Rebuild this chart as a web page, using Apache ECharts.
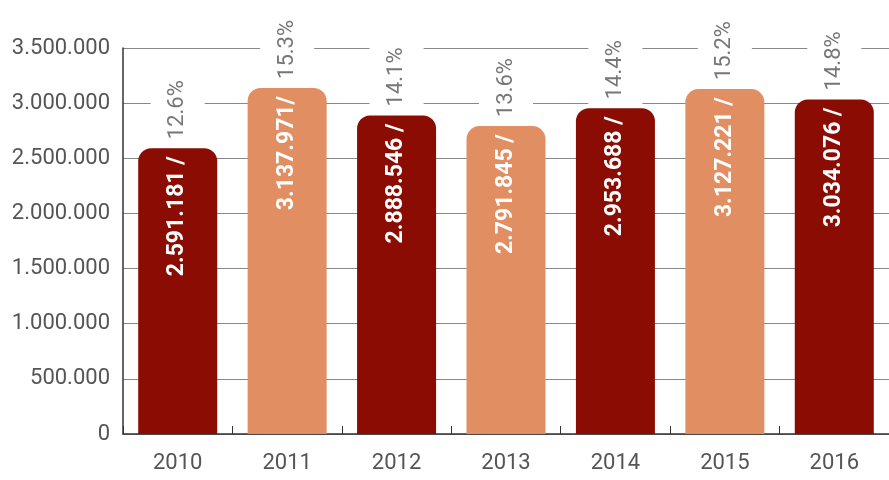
<!DOCTYPE html>
<html>
<head>
<meta charset="utf-8">
<style>
  html, body { margin: 0; padding: 0; background: #fff; }
  #chart { width: 889px; height: 480px; }
</style>
<script src="https://cdn.jsdelivr.net/npm/echarts@6/dist/echarts.min.js"></script>
</head>
<body>
<div id="chart"></div>
<script>
var years = ['2010', '2011', '2012', '2013', '2014', '2015', '2016']
var totals = [2591181, 3137971, 2888546, 2791845, 2953688, 3127221, 3034076]
var totalLabels = ['2.591.181 /', '3.137.971/', '2.888.546 /', '2.791.845 /', '2.953.688 /', '3.127.221 /', '3.034.076 /']
var shares = ['12.6%', '15.3%', '14.1%', '13.6%', '14.4%', '15.2%', '14.8%']

var colorWrap = ['#8b0c02', '#e08e62']

function dotted(v) {
  return String(v).replace(/\B(?=(\d{3})+(?!\d))/g, '.')
}

var chart = echarts.init(document.getElementById('chart'))

var barData = totals.map(function (v, i) {
  return {
    value: v,
    itemStyle: { color: colorWrap[i % 2] }
  }
})

chart.setOption({
  animation: false,
  grid: {
    left: 123,
    top: 48,
    bottom: 46,
    right: -11
  },
  xAxis: {
    type: 'category',
    data: years,
    axisLine: { lineStyle: { color: '#333', width: 1.5 } },
    axisTick: { show: true, inside: true, length: 8, lineStyle: { color: '#333' } },
    axisLabel: {
      color: '#555',
      fontFamily: 'Roboto',
      fontSize: 22,
      margin: 18
    }
  },
  yAxis: {
    type: 'value',
    min: 0,
    max: 3500000,
    interval: 500000,
    axisLine: { show: true, lineStyle: { color: '#333', width: 1.5 } },
    axisTick: { show: false },
    splitLine: { lineStyle: { color: '#888', width: 1 } },
    axisLabel: {
      color: '#555',
      fontFamily: 'Roboto',
      fontSize: 22,
      margin: 13,
      formatter: function (v) { return dotted(v) }
    }
  },
  series: [
    {
      type: 'bar',
      data: barData,
      barWidth: 79,
      z: 3,
      itemStyle: { borderRadius: [13, 13, 0, 0] },
      label: {
        show: true,
        position: 'insideTop',
        rotate: 90,
        align: 'right',
        verticalAlign: 'middle',
        distance: 8,
        color: '#fff',
        fontFamily: 'Roboto',
        fontWeight: 'bold',
        fontSize: 23,
        formatter: function (p) { return totalLabels[p.dataIndex] }
      }
    },
    {
      type: 'bar',
      data: totals,
      barWidth: 79,
      barGap: '-100%',
      z: 4,
      itemStyle: { color: 'transparent' },
      silent: true,
      label: {
        show: true,
        position: 'top',
        rotate: 90,
        align: 'left',
        verticalAlign: 'middle',
        distance: 3,
        color: '#777',
        fontFamily: 'Roboto',
        fontSize: 22,
        backgroundColor: '#fff',
        padding: [16, 6],
        formatter: function (p) { return shares[p.dataIndex] }
      }
    }
  ]
})
</script>
</body>
</html>
